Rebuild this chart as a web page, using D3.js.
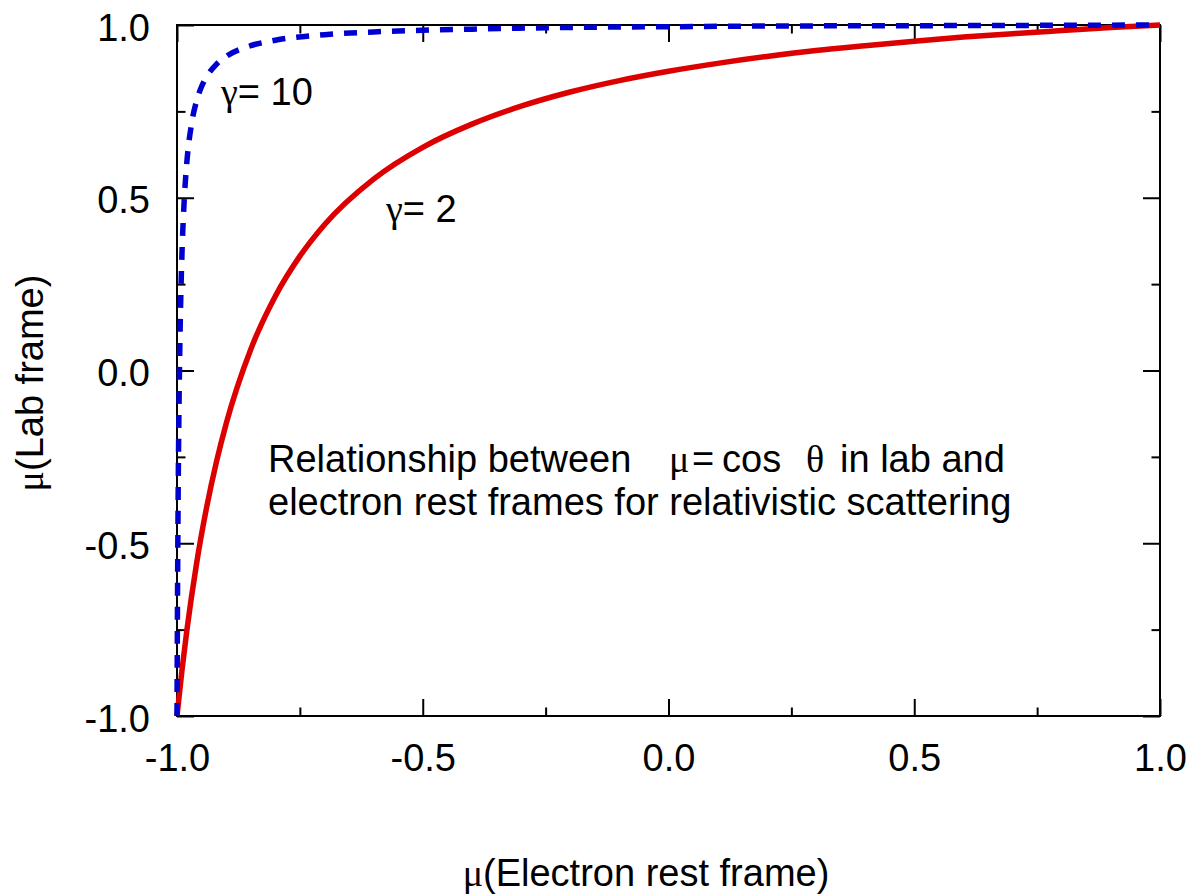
<!DOCTYPE html>
<html>
<head>
<meta charset="utf-8">
<script src="https://cdn.jsdelivr.net/npm/d3@7"></script>
<style>
  body { margin: 0; background: #fff; }
  svg text { font-family: "Liberation Sans", Arial, sans-serif; fill: #000; }
  .greek { font-family: "Liberation Serif", "Times New Roman", serif; }
</style>
</head>
<body>
<div id="chart"></div>
<script>
// mu in electron rest frame (x) vs mu in lab frame (y)
var muRest2 = [-1, -0.99, -0.98, -0.96, -0.94, -0.92, -0.9, -0.85, -0.8, -0.75, -0.7, -0.6, -0.5, -0.4,
               -0.3, -0.2, -0.1, 0, 0.1, 0.2, 0.3, 0.4, 0.5, 0.6, 0.7, 0.8, 0.9, 1];
var muLab2  = [-1, -0.869, -0.753, -0.557, -0.398, -0.266, -0.154, 0.061, 0.215, 0.331, 0.422, 0.554, 0.646, 0.713,
               0.765, 0.806, 0.839, 0.866, 0.889, 0.909, 0.926, 0.940, 0.953, 0.965, 0.975, 0.984, 0.993, 1];

var muRest10 = [-1, -0.999, -0.998, -0.996, -0.994, -0.992, -0.99, -0.985, -0.98, -0.97, -0.96, -0.95, -0.94,
                -0.92, -0.9, -0.85, -0.8, -0.7, -0.6, -0.5, -0.4, -0.2, 0, 0.2, 0.5, 1];
var muLab10  = [-1, -0.668, -0.430, -0.113, 0.090, 0.230, 0.333, 0.501, 0.602, 0.717, 0.781, 0.822, 0.850,
                0.886, 0.909, 0.940, 0.956, 0.972, 0.980, 0.985, 0.988, 0.993, 0.995, 0.997, 0.998, 1];

var majorTicks = [-1, -0.5, 0, 0.5, 1];
var minorTicks = [-0.75, -0.25, 0.25, 0.75];

var width = 1202, height = 896;
var plotLeft = 177, plotRight = 1160, plotTop = 25, plotBottom = 716;
var fs = 38;

var svg = d3.select("#chart").append("svg")
  .attr("width", width)
  .attr("height", height);

var x = d3.scaleLinear().domain([-1, 1]).range([plotLeft, plotRight]);
var y = d3.scaleLinear().domain([-1, 1]).range([plotBottom, plotTop]);

var fmt = function(d) { return d.toFixed(1); };

function styleAxis(g) {
  g.select(".domain").remove();
  g.selectAll(".tick line").attr("stroke", "#000").attr("stroke-width", 2);
  g.selectAll(".tick text").attr("font-size", fs).attr("font-family", "'Liberation Sans', Arial, sans-serif");
}

// bottom axis, labelled
svg.append("g").attr("transform", "translate(0," + plotBottom + ")")
  .call(d3.axisBottom(x).tickValues(majorTicks).tickSize(-17).tickPadding(28).tickFormat(fmt))
  .call(styleAxis);
svg.append("g").attr("transform", "translate(0," + plotBottom + ")")
  .call(d3.axisBottom(x).tickValues(minorTicks).tickSize(-8.5).tickFormat(""))
  .call(styleAxis);

// left axis, labelled
svg.append("g").attr("transform", "translate(" + plotLeft + ",0)")
  .call(d3.axisLeft(y).tickValues(majorTicks).tickSize(-17).tickPadding(27).tickFormat(fmt))
  .call(styleAxis)
  .selectAll(".tick text").attr("dy", "0.4em");
svg.append("g").attr("transform", "translate(" + plotLeft + ",0)")
  .call(d3.axisLeft(y).tickValues(minorTicks).tickSize(-8.5).tickFormat(""))
  .call(styleAxis);

// top and right mirror ticks
svg.append("g").attr("transform", "translate(0," + plotTop + ")")
  .call(d3.axisTop(x).tickValues(majorTicks).tickSize(-17).tickFormat(""))
  .call(styleAxis);
svg.append("g").attr("transform", "translate(0," + plotTop + ")")
  .call(d3.axisTop(x).tickValues(minorTicks).tickSize(-8.5).tickFormat(""))
  .call(styleAxis);
svg.append("g").attr("transform", "translate(" + plotRight + ",0)")
  .call(d3.axisRight(y).tickValues(majorTicks).tickSize(-17).tickFormat(""))
  .call(styleAxis);
svg.append("g").attr("transform", "translate(" + plotRight + ",0)")
  .call(d3.axisRight(y).tickValues(minorTicks).tickSize(-8.5).tickFormat(""))
  .call(styleAxis);

// frame
svg.append("rect")
  .attr("x", plotLeft).attr("y", plotTop)
  .attr("width", plotRight - plotLeft).attr("height", plotBottom - plotTop)
  .attr("fill", "none").attr("stroke", "#000").attr("stroke-width", 2);

// curves
var line = d3.line()
  .x(function(d) { return x(d[0]); })
  .y(function(d) { return y(d[1]); })
  .curve(d3.curveMonotoneX);

svg.append("path")
  .datum(d3.zip(muRest2, muLab2))
  .attr("d", line)
  .attr("fill", "none")
  .attr("stroke", "#dd0000")
  .attr("stroke-width", 5.5);

svg.append("path")
  .datum(d3.zip(muRest10, muLab10))
  .attr("d", line)
  .attr("fill", "none")
  .attr("stroke", "#0000d0")
  .attr("stroke-width", 5.5)
  .attr("stroke-dasharray", "13,11");

// curve labels
function gammaLabel(px, py, val) {
  var t = svg.append("text").attr("x", px).attr("y", py).attr("font-size", fs);
  t.append("tspan").attr("class", "greek").text("γ");
  t.append("tspan").text("= " + val);
}
gammaLabel(221, 105, "10");
gammaLabel(386, 222, "2");

// note text
var note1 = svg.append("text").attr("x", 268).attr("y", 472).attr("font-size", fs);
note1.append("tspan").text("Relationship between");
note1.append("tspan").attr("x", 669).attr("class", "greek").text("μ");
note1.append("tspan").attr("x", 692).text("=");
note1.append("tspan").attr("x", 722).text("cos");
note1.append("tspan").attr("x", 806).attr("class", "greek").text("θ");
note1.append("tspan").attr("x", 840).text("in lab and");

svg.append("text").attr("x", 268).attr("y", 515).attr("font-size", fs)
  .text("electron rest frames for relativistic scattering");

// axis titles
var xt = svg.append("text")
  .attr("x", 646).attr("y", 886)
  .attr("text-anchor", "middle").attr("font-size", fs);
xt.append("tspan").attr("class", "greek").text("μ");
xt.append("tspan").text("(Electron rest frame)");

var yt = svg.append("text")
  .attr("transform", "translate(43,383) rotate(-90)")
  .attr("text-anchor", "middle").attr("font-size", fs);
yt.append("tspan").attr("class", "greek").text("μ");
yt.append("tspan").text("(Lab frame)");
</script>
</body>
</html>
